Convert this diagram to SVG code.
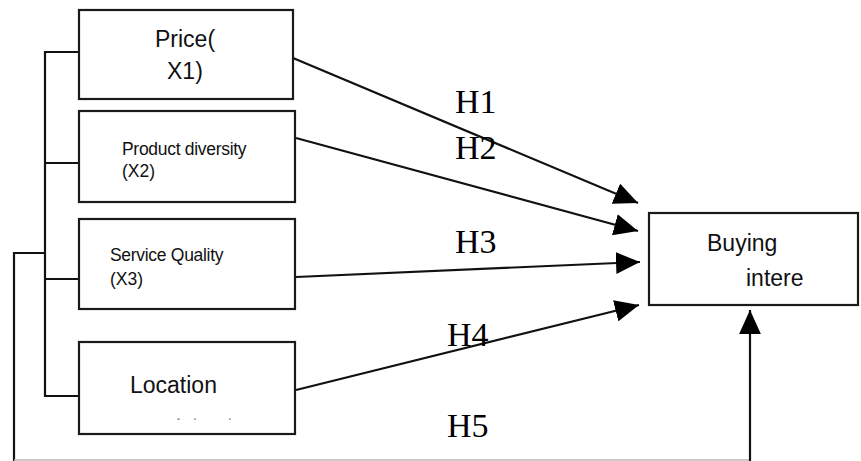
<svg xmlns="http://www.w3.org/2000/svg" width="861" height="461" viewBox="0 0 861 461">
<defs>
<marker id="ah" markerUnits="userSpaceOnUse" markerWidth="24" markerHeight="22" viewBox="0 0 22 20" refX="22" refY="10" orient="auto">
<path d="M0,0 L22,10 L0,20 Z" fill="#000"/>
</marker>
</defs>
<style>
.box{fill:#fff;stroke:#1a1a1a;stroke-width:2.2}
.ln{fill:none;stroke:#111;stroke-width:2.2}
.sans{font-family:"Liberation Sans",Arial,sans-serif;fill:#111}
.h{font-family:"Liberation Serif","Times New Roman",serif;font-size:34px;fill:#000}
</style>
<rect width="861" height="461" fill="#fff"/>
<g id="connectors">
<polyline class="ln" points="79,52 45,52 45,396 79,396"/>
<line class="ln" x1="45" y1="163" x2="79" y2="163"/>
<line class="ln" x1="45" y1="279" x2="79" y2="279"/>
<polyline class="ln" points="45,253 14,253 14,461"/>
<line x1="14" y1="460" x2="750" y2="460" stroke="#bbb" stroke-width="1.5"/>
<line class="ln" x1="750" y1="461" x2="750" y2="310" marker-end="url(#ah)"/>
<line class="ln" x1="293" y1="58" x2="638" y2="203" marker-end="url(#ah)"/>
<line class="ln" x1="296" y1="138" x2="638" y2="231" marker-end="url(#ah)"/>
<line class="ln" x1="296" y1="277" x2="640" y2="262" marker-end="url(#ah)"/>
<line class="ln" x1="296" y1="390" x2="639" y2="305" marker-end="url(#ah)"/>
<text class="h" x="455" y="113">H1</text>
<text class="h" x="455" y="159">H2</text>
<text class="h" x="455" y="253">H3</text>
<text class="h" x="447" y="346">H4</text>
<text class="h" x="447" y="437">H5</text>
</g>
<g id="price">
<rect class="box" x="79" y="10" width="214" height="89"/>
<text class="sans" x="155" y="47" font-size="23">Price(</text>
<text class="sans" x="167" y="79" font-size="23">X1)</text>
</g>
<g id="product">
<rect class="box" x="79" y="111" width="216" height="91"/>
<text class="sans" x="122" y="155" font-size="17.5" letter-spacing="-0.3">Product diversity</text>
<text class="sans" x="122" y="177" font-size="17.5">(X2)</text>
</g>
<g id="service">
<rect class="box" x="79" y="219" width="216" height="90"/>
<text class="sans" x="110" y="261" font-size="17.5" letter-spacing="-0.3">Service Quality</text>
<text class="sans" x="110" y="285" font-size="17.5">(X3)</text>
</g>
<g id="location">
<rect class="box" x="79" y="342" width="216" height="92"/>
<text class="sans" x="130" y="393" font-size="23">Location</text>
<rect x="177" y="418.5" width="3" height="1.2" fill="#889"/>
<rect x="194" y="418.5" width="2" height="1.2" fill="#889"/>
<rect x="229" y="418.5" width="2" height="1.2" fill="#889"/>
</g>
<g id="buying">
<rect class="box" x="649" y="213" width="209" height="92"/>
<text class="sans" x="707" y="251" font-size="23">Buying</text>
<text class="sans" x="746" y="286" font-size="23">intere</text>
</g>
</svg>
